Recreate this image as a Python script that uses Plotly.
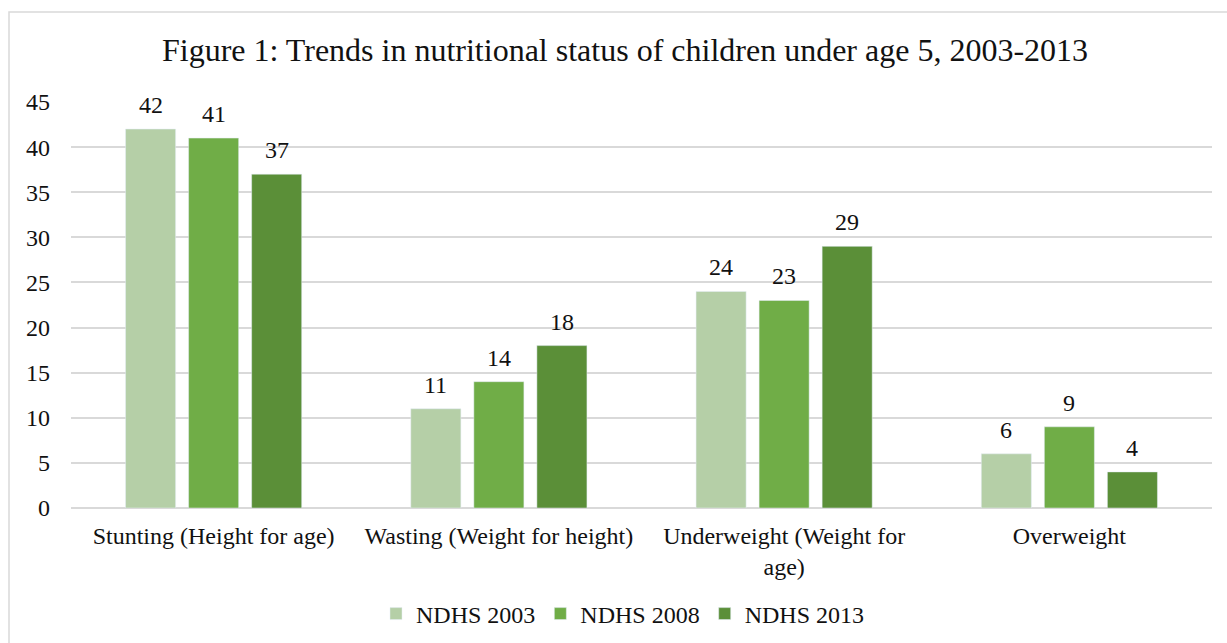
import plotly.graph_objects as go

categories = ["Stunting (Height for age)", "Wasting (Weight for height)",
              "Underweight (Weight for<br>age)", "Overweight"]
ndhs_2003 = [42, 11, 24, 6]
ndhs_2008 = [41, 14, 23, 9]
ndhs_2013 = [37, 18, 29, 4]
series_names = ["NDHS 2003", "NDHS 2008", "NDHS 2013"]
colors = ["#b5cfa7", "#70ad47", "#5b8f38"]
y_ticks = [0, 5, 10, 15, 20, 25, 30, 35, 40, 45]

FONT = "Liberation Serif, Times New Roman, serif"
TXT = "#111111"

W, H = 1227, 643
ml, mr, mt, mb = 71, 15, 102, 135
pw, ph = W - ml - mr, H - mt - mb
BARGAP, GROUPGAP = 0.337, 0.206


def px_x(p):
    return (p - ml) / pw


def px_y(p):
    return (H - mb - p) / ph


fig = go.Figure()
all_series = [ndhs_2003, ndhs_2008, ndhs_2013]
for name, vals, col in zip(series_names, all_series, colors):
    fig.add_trace(go.Bar(x=categories, y=vals, name=name, marker_color=col))

# value labels above each bar, offset to each bar's slot in the group
slot = (pw / len(categories)) * (1 - BARGAP) / len(all_series)
annotations = []
for i, vals in enumerate(all_series):
    for cat, v in zip(categories, vals):
        annotations.append(dict(
            x=cat, y=v, xref="x", yref="y", text=str(v), showarrow=False,
            xshift=(i - 1) * slot, yshift=24, yanchor="middle",
            font=dict(family=FONT, size=24, color=TXT)))

fig.update_layout(
    width=W, height=H,
    margin=dict(l=ml, r=mr, t=mt, b=mb, autoexpand=False),
    paper_bgcolor="white", plot_bgcolor="white",
    barmode="group", bargap=BARGAP, bargroupgap=GROUPGAP,
    font=dict(family=FONT, size=24, color=TXT),
    title=dict(text="Figure 1: Trends in nutritional status of children under age 5, 2003-2013",
               font=dict(family=FONT, size=32, color=TXT),
               x=px_x(625), xref="paper", xanchor="center",
               y=1 - 50 / H, yanchor="middle"),
    xaxis=dict(showgrid=False, showline=False, ticks="", automargin=False,
               tickfont=dict(family=FONT, size=24, color=TXT),
               ticklabelstandoff=11),
    yaxis=dict(range=[0, 45], tickvals=y_ticks, showgrid=True, automargin=False,
               gridcolor="#d9d9d9", gridwidth=2, zeroline=True,
               zerolinecolor="#d9d9d9", zerolinewidth=2, ticks="",
               tickfont=dict(family=FONT, size=24, color=TXT),
               ticklabelstandoff=20),
    legend=dict(orientation="h", x=px_x(623), xanchor="center",
                y=px_y(614), yanchor="middle",
                font=dict(family=FONT, size=24, color=TXT),
                itemwidth=30, traceorder="normal"),
    showlegend=True,
    annotations=annotations,
    shapes=[dict(type="rect", xref="paper", yref="paper",
                 x0=px_x(9), x1=px_x(1260), y0=px_y(660), y1=px_y(12),
                 line=dict(color="#d9d9d9", width=1.5), layer="below")],
)

fig.write_html("out.html")
